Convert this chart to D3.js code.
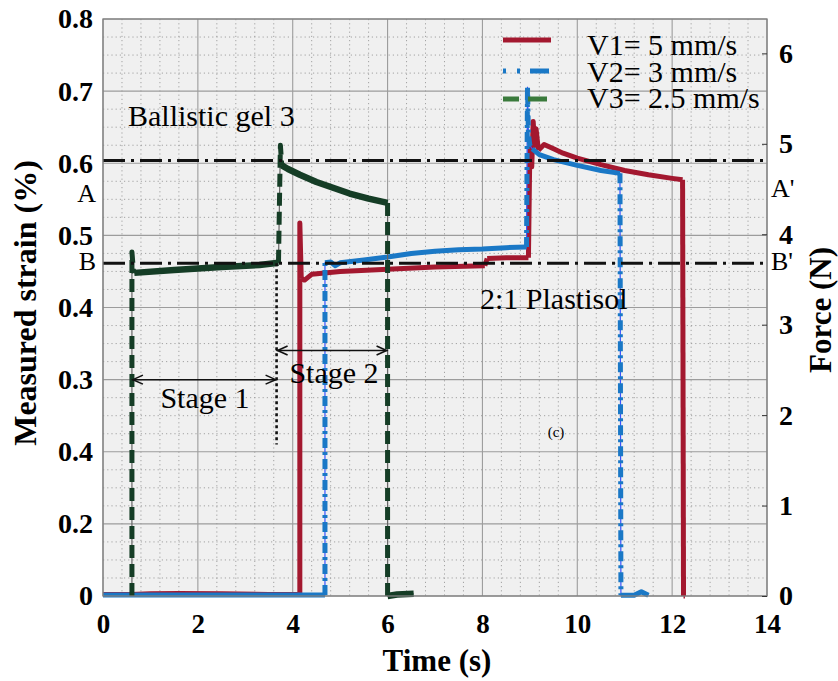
<!DOCTYPE html>
<html><head><meta charset="utf-8">
<script src="https://cdn.jsdelivr.net/npm/d3@7"></script>
<style>body{margin:0;background:#fff}</style>
</head><body><svg id="c" width="838" height="681"></svg>
<script>
// ---------- data ----------
const timeTicks = [0, 2, 4, 6, 8, 10, 12, 14];
const strainTickValues = [0, 0.1, 0.2, 0.3, 0.4, 0.5, 0.6, 0.7, 0.8];
const strainTickLabels = ["0", "0.2", "0.4", "0.3", "0.4", "0.5", "0.6", "0.7", "0.8"];
const forceTicks = [0, 1, 2, 3, 4, 5, 6];
const seriesNames = ["V1= 5 mm/s", "V2= 3 mm/s", "V3= 2.5 mm/s"];

// V1 = 5 mm/s  [time (s), value on left axis]
const v1 = [[0,0.002],[0.6,0.002],[1.0,0.003],[1.6,0.0035],[2.5,0.003],[3.5,0.002],[4.1,0.002],
  [4.15,0.002],[4.15,0.517],[4.18,0.44],[4.25,0.438],[4.4,0.446],[5.0,0.450],[6.0,0.453],
  [7.0,0.456],[8.05,0.458],[8.1,0.468],[8.5,0.469],[8.97,0.469],[9.0,0.62],[9.04,0.595],
  [9.07,0.658],[9.1,0.625],[9.13,0.648],[9.18,0.618],[9.3,0.626],[9.5,0.62],[9.7,0.614],
  [10.0,0.607],[10.5,0.598],[11.0,0.590],[11.5,0.584],[12.0,0.579],[12.22,0.577],[12.24,0.0],[12.27,0.0]];

// V2 = 3 mm/s
const v2 = [[0,0.0015],[1.0,0.0015],[2.0,0.0015],[3.0,0.0015],[4.0,0.0015],[4.68,0.0015],[4.68,0.462],[4.8,0.463],
  [4.9,0.458],[5.0,0.462],[5.5,0.466],[6.0,0.470],[6.5,0.475],[7.0,0.478],[7.5,0.480],[8.0,0.481],
  [8.5,0.483],[8.93,0.484],[8.95,0.706],[8.97,0.64],[9.0,0.625],[9.05,0.62],[9.2,0.612],[9.5,0.605],
  [10.0,0.597],[10.5,0.590],[10.9,0.586],[10.92,0.001],[11.2,0.001],[11.35,0.006],[11.5,0.001]];

// V3 = 2.5 mm/s
const v3 = [[0.61,0.0],[0.61,0.477],[0.64,0.452],[0.66,0.448],[1.5,0.452],[2.5,0.456],[3.3,0.459],
  [3.70,0.462],[3.74,0.625],[3.77,0.597],[3.9,0.592],[4.15,0.584],[4.5,0.574],[4.85,0.566],
  [5.2,0.558],[5.6,0.551],[6.0,0.545],[6.0,0.0],[6.2,0.002],[6.55,0.003]];

const refLevels = [{left:"A", right:"A'", value:0.6038}, {left:"B", right:"B'", value:0.4613}];
const stageMarks = [{label:"Stage 1", from:0.61, to:3.66, level:0.3},
                    {label:"Stage 2", from:3.66, to:6.0, level:0.3405}];
const stageDivider = {time:3.66, from:0.4613, to:0.21};

// ---------- layout ----------
const svg = d3.select("#c");
const L = 103, R = 767, T = 19, B = 596;
const x = d3.scaleLinear().domain([0, 14]).range([L, R]);
const y = d3.scaleLinear().domain([0, 0.8]).range([B, T]);
const yF = d3.scaleLinear().domain([0, 6.38]).range([B, T]);
const serif = "'Liberation Serif','Times New Roman',serif";

svg.append("rect").attr("x", L).attr("y", T).attr("width", R - L).attr("height", B - T).attr("fill", "#f0f0f0");

// minor grid
const g = svg.append("g");
g.selectAll(".mx").data(d3.range(0, 14.001, 0.4).filter(d => Math.abs(d/2 - Math.round(d/2)) > 0.01))
  .join("line").attr("x1", d => x(d)).attr("x2", d => x(d)).attr("y1", T).attr("y2", B)
  .attr("stroke", "#9a9a9a").attr("stroke-width", 0.9).attr("stroke-dasharray", "1.2,3");
g.selectAll(".my").data(d3.range(0, 0.8001, 0.025).filter(d => Math.abs(d*10 - Math.round(d*10)) > 0.01))
  .join("line").attr("y1", d => y(d)).attr("y2", d => y(d)).attr("x1", L).attr("x2", R)
  .attr("stroke", "#9a9a9a").attr("stroke-width", 0.9).attr("stroke-dasharray", "1.2,3");
// major grid
g.selectAll(".Mx").data(timeTicks).join("line").attr("x1", d => x(d)).attr("x2", d => x(d))
  .attr("y1", T).attr("y2", B).attr("stroke", "#9c9c9c").attr("stroke-width", 1.1);
g.selectAll(".My").data(strainTickValues).join("line").attr("y1", d => y(d)).attr("y2", d => y(d))
  .attr("x1", L).attr("x2", R).attr("stroke", "#9c9c9c").attr("stroke-width", 1.1);

// ---------- series ----------
function drawSeries(data, opt) {
  const pts = data.map(d => [x(d[0]), y(d[1])]);
  const line = d3.line();
  if (opt.thin) svg.append("path").attr("d", line(pts)).attr("fill", "none")
      .attr("stroke", opt.thin).attr("stroke-width", 1.2);
  const runs = [];
  for (let i = 0; i < pts.length - 1; i++) {
    const a = pts[i], b = pts[i+1];
    const steep = Math.abs(b[1]-a[1]) > Math.abs(b[0]-a[0]) * 1.5;
    const last = runs[runs.length - 1];
    if (last && last.steep === steep) last.pts.push(b);
    else runs.push({steep, pts: [a, b]});
  }
  runs.forEach(r => {
    svg.append("path").attr("d", line(r.pts)).attr("fill", "none")
      .attr("stroke", opt.color).attr("stroke-width", r.steep ? opt.vw : opt.hw)
      .attr("stroke-linejoin", "round").attr("stroke-linecap", "butt")
      .attr("stroke-dasharray", r.steep && opt.dash ? opt.dash : null);
  });
}
drawSeries(v1, {color:"#a3182f", hw:5, vw:5});
drawSeries(v2, {color:"#1a78c6", hw:5, vw:5, dash:"10,4,3,4", thin:"#3a52ff"});
drawSeries(v3, {color:"#153d26", hw:6.5, vw:5, dash:"13,6", thin:"#666"});

// reference lines
refLevels.forEach(r => {
  svg.append("line").attr("x1", L).attr("x2", R).attr("y1", y(r.value)).attr("y2", y(r.value))
    .attr("stroke", "#111").attr("stroke-width", 3).attr("stroke-dasharray", "22,6,3,6");
  svg.append("text").attr("x", 96).attr("y", y(r.value) + (r.left === "A" ? 41 : 7))
    .attr("text-anchor", "end").attr("font-family", serif).attr("font-size", 26).text(r.left);
  svg.append("text").attr("x", 771).attr("y", y(r.value) + (r.left === "A" ? 36 : 7))
    .attr("font-family", serif).attr("font-size", 26).text(r.right);
});

// stage divider and arrows
svg.append("line").attr("x1", x(stageDivider.time)).attr("x2", x(stageDivider.time))
  .attr("y1", y(stageDivider.from)).attr("y2", y(stageDivider.to))
  .attr("stroke", "#111").attr("stroke-width", 2.6).attr("stroke-dasharray", "3,3");
stageMarks.forEach((s, i) => {
  const yy = y(s.level), x1 = x(s.from), x2 = x(s.to);
  svg.append("line").attr("x1", x1).attr("x2", x2).attr("y1", yy).attr("y2", yy)
    .attr("stroke", "#111").attr("stroke-width", 1.5);
  svg.append("path").attr("d", `M${x1+11},${yy-4.5}L${x1+1},${yy}L${x1+11},${yy+4.5}`)
    .attr("fill", "none").attr("stroke", "#111").attr("stroke-width", 1.6);
  svg.append("path").attr("d", `M${x2-11},${yy-4.5}L${x2-1},${yy}L${x2-11},${yy+4.5}`)
    .attr("fill", "none").attr("stroke", "#111").attr("stroke-width", 1.6);
  svg.append("text").attr("x", i === 0 ? 205 : 334).attr("y", i === 0 ? 408 : 383)
    .attr("text-anchor", "middle").attr("font-family", serif).attr("font-size", 30).text(s.label);
});

// annotations
svg.append("text").attr("x", 128).attr("y", 126).attr("font-family", serif).attr("font-size", 30).text("Ballistic gel 3");
svg.append("text").attr("x", 480).attr("y", 309).attr("font-family", serif).attr("font-size", 30).text("2:1 Plastisol");
svg.append("text").attr("x", 556).attr("y", 437).attr("text-anchor", "middle").attr("font-family", serif).attr("font-size", 15).text("(c)");

// legend
const legColors = ["#a3182f", "#1a78c6", "#3a7a3c"];
const legDash = [null, "3,11,3,10,19", "16,9,19"];
const legY = [40, 71, 99], legTextY = [55, 82, 108];
seriesNames.forEach((n, i) => {
  svg.append("line").attr("x1", 503).attr("x2", 551).attr("y1", legY[i]).attr("y2", legY[i])
    .attr("stroke", legColors[i]).attr("stroke-width", 5).attr("stroke-dasharray", legDash[i]);
  svg.append("text").attr("x", 587).attr("y", legTextY[i]).attr("font-family", serif)
    .attr("font-size", 30).text(n);
});

// frame
svg.append("rect").attr("x", L).attr("y", T).attr("width", R - L).attr("height", B - T)
  .attr("fill", "none").attr("stroke", "#808080").attr("stroke-width", 1.3);

// axes
const axL = d3.axisLeft(y).tickValues(strainTickValues).tickSize(0).tickPadding(10)
  .tickFormat((d, i) => strainTickLabels[i]);
const gl = svg.append("g").attr("transform", `translate(${L},0)`).call(axL);
const axB = d3.axisBottom(x).tickValues(timeTicks).tickSize(0).tickPadding(18).tickFormat(d3.format("d"));
const gb = svg.append("g").attr("transform", `translate(0,${B})`).call(axB);
const axR = d3.axisRight(yF).tickValues(forceTicks).tickSize(-5).tickPadding(12).tickFormat(d3.format("d"));
const gr = svg.append("g").attr("transform", `translate(${R},0)`).call(axR);
[gl, gb, gr].forEach(a => {
  a.select(".domain").remove();
  a.selectAll("text").attr("font-family", serif).attr("font-weight", "bold").attr("font-size", 28).attr("fill", "#000");
  a.selectAll("line").attr("stroke", "#333");
});
gb.selectAll("text").attr("font-size", 27);

// axis titles
svg.append("text").attr("x", 437).attr("y", 671).attr("text-anchor", "middle").attr("font-family", serif)
  .attr("font-weight", "bold").attr("font-size", 31).text("Time (s)");
svg.append("text").attr("transform", "translate(36,303) rotate(-90)").attr("text-anchor", "middle")
  .attr("font-family", serif).attr("font-weight", "bold").attr("font-size", 32).text("Measured strain (%)");
svg.append("text").attr("transform", "translate(831,310) rotate(-90)").attr("text-anchor", "middle")
  .attr("font-family", serif).attr("font-weight", "bold").attr("font-size", 31).text("Force (N)");
</script></body></html>
